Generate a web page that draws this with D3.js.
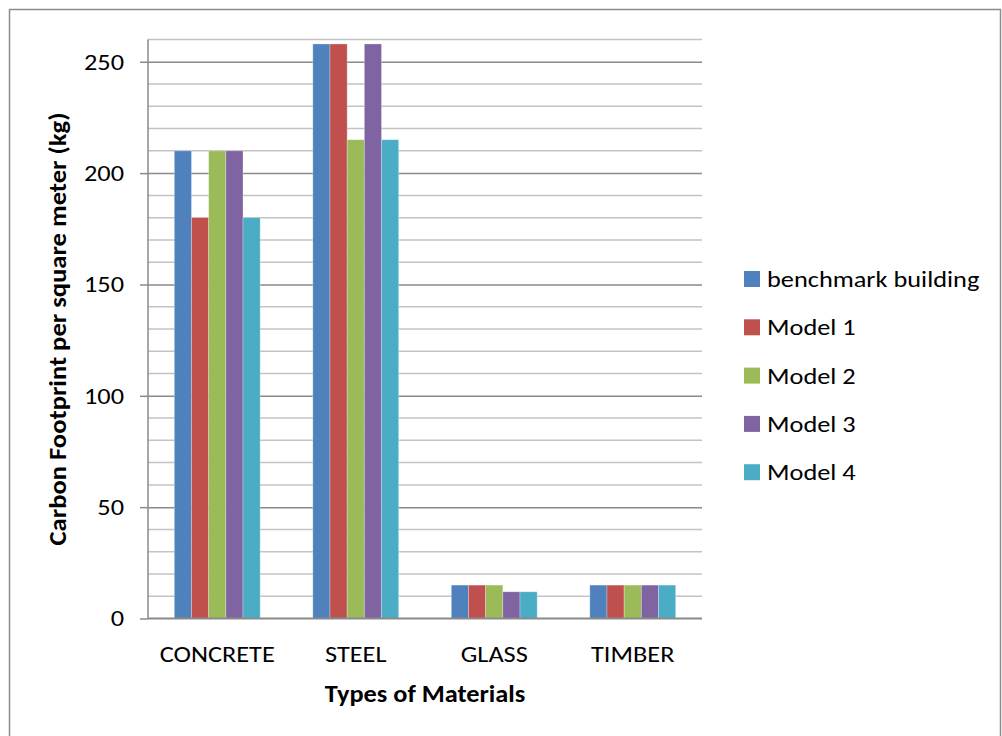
<!DOCTYPE html>
<html>
<head>
<meta charset="utf-8">
<script src="https://cdn.jsdelivr.net/npm/d3@7"></script>
<style>
  html, body { margin: 0; padding: 0; background: #fff; }
  svg { display: block; }
  text { font-family: Carlito, Calibri, Lato, "Open Sans", sans-serif; fill: #000; }
</style>
</head>
<body>
<svg id="chart" width="1002" height="736"></svg>
<script>
// Material categories and carbon footprint per m² (kg) for each building variant
const categories = ["CONCRETE", "STEEL", "GLASS", "TIMBER"];
const seriesNames = ["benchmark building", "Model 1", "Model 2", "Model 3", "Model 4"];
const seriesColors = ["#4F81BD", "#C0504D", "#9BBB59", "#8064A2", "#4BACC6"];
const benchmark = [210, 258, 15, 15];
const model1 = [180, 258, 15, 15];
const model2 = [210, 215, 15, 15];
const model3 = [210, 258, 12, 15];
const model4 = [180, 215, 12, 15];
const seriesValues = [benchmark, model1, model2, model3, model4];
const yTicks = [0, 50, 100, 150, 200, 250];
const yMinorTicks = d3.range(0, 261, 10);

const FONT = "Carlito, Calibri, Lato, 'Open Sans', sans-serif";
const FONT_SIZE = "23.3px";
const WIDEN = 1.13; // horizontal text widening

const svg = d3.select("#chart");

const plot = { left: 148, right: 702, top: 39.5, bottom: 618.5 };

const x0 = d3.scaleBand()
  .domain(categories)
  .range([plot.left, plot.right])
  .paddingInner(0.38)
  .paddingOuter(0.19);

const x1 = d3.scaleBand()
  .domain(seriesNames)
  .range([0, x0.bandwidth()]);

const y = d3.scaleLinear()
  .domain([0, 260])
  .range([plot.bottom, plot.top]);

// Outer chart frame
svg.append("rect")
  .attr("x", 9.5).attr("y", 9.5)
  .attr("width", 991).attr("height", 760)
  .attr("fill", "none")
  .attr("stroke", "#8c8c8c")
  .attr("stroke-width", 1.5);

// Minor gridlines every 10 kg
svg.append("g")
  .selectAll("line")
  .data(yMinorTicks.filter(d => d % 50 !== 0))
  .join("line")
  .attr("x1", plot.left).attr("x2", plot.right)
  .attr("y1", d => y(d)).attr("y2", d => y(d))
  .attr("stroke", "#c3c3c3")
  .attr("stroke-width", 1.5);

// Major gridlines, ticks and labels via a left axis
const yAxis = d3.axisLeft(y)
  .tickValues(yTicks)
  .tickSize(8)
  .tickPadding(16)
  .tickFormat(d3.format("d"));

const gy = svg.append("g")
  .attr("transform", `translate(${plot.left},0)`)
  .call(yAxis);
gy.select(".domain").attr("stroke", "#8a8a8a").attr("stroke-width", 1.5)
  .attr("d", `M0,${plot.top}V${plot.bottom}`);
gy.selectAll(".tick line").attr("stroke", "#8a8a8a").attr("stroke-width", 1.5);
gy.selectAll(".tick text")
  .attr("class", "wide")
  .style("font-family", FONT)
  .style("font-size", FONT_SIZE)
  .attr("fill", "#000");

gy.selectAll(".tick")
  .filter(d => d !== 0)
  .append("line")
  .attr("x1", 0).attr("x2", plot.right - plot.left)
  .attr("stroke", "#8a8a8a")
  .attr("stroke-width", 1.5);

// Bars
const groups = svg.append("g")
  .selectAll("g")
  .data(categories)
  .join("g")
  .attr("transform", d => `translate(${x0(d)},0)`);

groups.selectAll("rect")
  .data((c, ci) => seriesNames.map((s, si) => ({ series: s, si, value: seriesValues[si][ci] })))
  .join("rect")
  .attr("x", d => x1(d.series))
  .attr("width", x1.bandwidth())
  .attr("y", d => y(d.value))
  .attr("height", d => y(0) - y(d.value))
  .attr("fill", d => seriesColors[d.si])
  .attr("stroke", "rgba(255,255,255,0.35)")
  .attr("stroke-width", 0.8);

// Category axis
const xAxis = d3.axisBottom(x0).tickSize(0).tickPadding(27);
const gx = svg.append("g")
  .attr("transform", `translate(0,${plot.bottom})`)
  .call(xAxis);
gx.select(".domain").attr("stroke", "#8a8a8a").attr("stroke-width", 2)
  .attr("d", `M${plot.left},0H${plot.right}`);
gx.selectAll(".tick text")
  .attr("class", "wide")
  .style("font-family", FONT)
  .style("font-size", FONT_SIZE)
  .attr("fill", "#000");

// Axis titles
svg.append("text")
  .attr("class", "wide")
  .attr("x", (plot.left + plot.right) / 2)
  .attr("y", 701.5)
  .attr("text-anchor", "middle")
  .style("font-size", FONT_SIZE)
  .style("font-weight", "bold")
  .text("Types of Materials");

svg.append("text")
  .attr("transform", `translate(65.5,${(plot.top + plot.bottom) / 2}) rotate(-90)`)
  .attr("text-anchor", "middle")
  .attr("textLength", 433)
  .attr("lengthAdjust", "spacingAndGlyphs")
  .style("font-size", "24.2px")
  .style("font-weight", "bold")
  .text("Carbon Footprint per square meter (kg)");

// Legend
const legend = svg.append("g")
  .selectAll("g")
  .data(seriesNames)
  .join("g")
  .attr("transform", (d, i) => `translate(744,${279 + i * 48.3})`);

legend.append("rect")
  .attr("x", 0).attr("y", -8)
  .attr("width", 16).attr("height", 16)
  .attr("fill", (d, i) => seriesColors[i]);

legend.append("text")
  .attr("class", "wide")
  .attr("x", 23)
  .attr("y", 0)
  .attr("dy", "0.35em")
  .style("font-size", FONT_SIZE)
  .text(d => d);

// Widen horizontal labels slightly
svg.selectAll("text.wide").each(function () {
  const len = this.getComputedTextLength();
  d3.select(this)
    .attr("textLength", len * WIDEN)
    .attr("lengthAdjust", "spacingAndGlyphs");
});
</script>
</body>
</html>
